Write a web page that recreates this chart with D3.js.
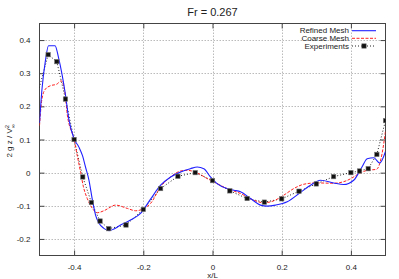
<!DOCTYPE html>
<html>
<head>
<meta charset="utf-8">
<script src="https://cdn.jsdelivr.net/npm/d3@7"></script>
<style>
  body { margin: 0; background: #fff; }
  text { font-family: "Liberation Sans", Arial, sans-serif; fill: #222; }
</style>
</head>
<body>
<div id="chart"></div>
<script>
// values
var refinedX = [-0.5, -0.493, -0.483, -0.474, -0.455, -0.445, -0.435, -0.425, -0.415, -0.4, -0.386, -0.376, -0.367, -0.357, -0.347, -0.338, -0.328, -0.314, -0.299, -0.285, -0.266, -0.237, -0.208, -0.179, -0.15, -0.121, -0.092, -0.064, -0.044, -0.025, -0.006, 0.013, 0.042, 0.062, 0.081, 0.11, 0.139, 0.158, 0.182, 0.216, 0.254, 0.283, 0.312, 0.35, 0.379, 0.408, 0.432, 0.447, 0.466, 0.483, 0.5];
var refinedY = [0.15, 0.25, 0.337, 0.383, 0.383, 0.347, 0.297, 0.235, 0.16, 0.102, 0.077, 0.052, 0.017, -0.023, -0.083, -0.128, -0.153, -0.168, -0.175, -0.170, -0.158, -0.143, -0.123, -0.08, -0.038, -0.013, 0.002, 0.012, 0.017, 0.012, -0.013, -0.033, -0.048, -0.053, -0.058, -0.078, -0.098, -0.101, -0.098, -0.088, -0.06, -0.038, -0.023, -0.031, -0.036, -0.023, 0.017, 0.042, 0.045, 0.029, 0.064];

var coarseX = [-0.5, -0.493, -0.483, -0.469, -0.45, -0.437, -0.425, -0.42, -0.4, -0.391, -0.381, -0.373, -0.362, -0.347, -0.333, -0.314, -0.28, -0.246, -0.222, -0.198, -0.179, -0.15, -0.121, -0.092, -0.073, -0.044, -0.015, 0.013, 0.042, 0.081, 0.119, 0.148, 0.177, 0.206, 0.235, 0.264, 0.3, 0.35, 0.38, 0.4, 0.42, 0.447, 0.474, 0.49, 0.5];
var coarseY = [0.142, 0.222, 0.252, 0.262, 0.267, 0.277, 0.232, 0.177, 0.1, 0.052, 0.0, -0.043, -0.078, -0.108, -0.121, -0.115, -0.098, -0.108, -0.115, -0.108, -0.093, -0.043, -0.013, 0.005, 0.007, -0.001, -0.018, -0.033, -0.048, -0.063, -0.083, -0.091, -0.085, -0.068, -0.048, -0.035, -0.031, -0.032, -0.027, -0.018, -0.005, 0.007, 0.010, 0.057, 0.125];

var expX = [-0.525, -0.475, -0.45, -0.425, -0.4, -0.375, -0.35, -0.325, -0.3, -0.25, -0.2, -0.15, -0.1, -0.05, 0, 0.05, 0.1, 0.15, 0.2, 0.25, 0.3, 0.35, 0.4, 0.425, 0.45, 0.475, 0.5];
var expY = [0.16, 0.356, 0.335, 0.222, 0.1, -0.013, -0.09, -0.146, -0.169, -0.158, -0.111, -0.048, -0.011, 0.0, -0.024, -0.055, -0.078, -0.089, -0.079, -0.056, -0.034, -0.012, 0.0, 0.005, 0.012, 0.055, 0.157];

var xTicks = [-0.4, -0.2, 0, 0.2, 0.4];
var yTicks = [-0.2, -0.1, 0, 0.1, 0.2, 0.3, 0.4];
var legendNames = ["Refined Mesh", "Coarse Mesh", "Experiments"];

var width = 399, height = 279;
var plotLeft = 39.5, plotRight = 385.5, plotTop = 23.5, plotBottom = 255.5;

var svg = d3.select("#chart").append("svg")
            .attr("width", width)
            .attr("height", height);

var x = d3.scaleLinear().domain([-0.5, 0.5]).range([plotLeft, plotRight]);
var y = d3.scaleLinear().domain([-0.25, 0.45]).range([plotBottom, plotTop]);

// gnuplot style labels: plain hyphen, "0" without decimals
var fmt = function(d) { return d === 0 ? "0" : d.toFixed(1); };

svg.append("clipPath").attr("id", "plotclip")
   .append("rect")
   .attr("x", plotLeft).attr("y", plotTop)
   .attr("width", plotRight - plotLeft).attr("height", plotBottom - plotTop);

// grid
svg.append("g").selectAll("line")
   .data(xTicks).enter().append("line")
   .attr("x1", function(d) { return Math.round(x(d)) + 0.5; })
   .attr("x2", function(d) { return Math.round(x(d)) + 0.5; })
   .attr("y1", plotTop).attr("y2", plotBottom)
   .attr("stroke", "#aaa").attr("stroke-width", 0.8)
   .attr("stroke-dasharray", "1.5,1.5");
svg.append("g").selectAll("line")
   .data(yTicks).enter().append("line")
   .attr("y1", function(d) { return Math.round(y(d)) + 0.5; })
   .attr("y2", function(d) { return Math.round(y(d)) + 0.5; })
   .attr("x1", plotLeft).attr("x2", plotRight)
   .attr("stroke", "#aaa").attr("stroke-width", 0.8)
   .attr("stroke-dasharray", "1.5,1.5");

// axes, ticks inward and mirrored
var xAxis = d3.axisBottom(x).tickValues(xTicks).tickSize(-5).tickPadding(9).tickFormat(fmt);
var yAxis = d3.axisLeft(y).tickValues(yTicks).tickSize(-5).tickPadding(9).tickFormat(fmt);

svg.append("g").attr("transform", "translate(0," + plotBottom + ")").call(xAxis);
svg.append("g").attr("transform", "translate(" + plotLeft + ",0)").call(yAxis);
svg.append("g").attr("transform", "translate(0," + plotTop + ")")
   .call(d3.axisTop(x).tickValues(xTicks).tickSize(-5).tickFormat(""));
svg.append("g").attr("transform", "translate(" + plotRight + ",0)")
   .call(d3.axisRight(y).tickValues(yTicks).tickSize(-5).tickFormat(""));

svg.selectAll(".domain").remove();
svg.selectAll(".tick line").attr("stroke", "#444");
svg.selectAll(".tick text").style("font-size", "8px")
   .style("font-family", "Liberation Sans, Arial, sans-serif").attr("fill", "#222");

svg.append("rect")
   .attr("x", plotLeft).attr("y", plotTop)
   .attr("width", plotRight - plotLeft).attr("height", plotBottom - plotTop)
   .attr("fill", "none").attr("stroke", "#444").attr("stroke-width", 1);

// curves
var plot = svg.append("g").attr("clip-path", "url(#plotclip)");

var smooth = d3.line()
               .x(function(d) { return x(d[0]); })
               .y(function(d) { return y(d[1]); })
               .curve(d3.curveMonotoneX);
var straight = d3.line()
                 .x(function(d) { return x(d[0]); })
                 .y(function(d) { return y(d[1]); });

var refined = d3.zip(refinedX, refinedY);
var coarse = d3.zip(coarseX, coarseY);
var exper = d3.zip(expX, expY);

plot.append("path").attr("d", straight(exper))
    .attr("fill", "none").attr("stroke", "#222").attr("stroke-width", 1)
    .attr("stroke-dasharray", "1,2");
plot.append("path").attr("d", smooth(coarse))
    .attr("fill", "none").attr("stroke", "#ff2020").attr("stroke-width", 1)
    .attr("stroke-dasharray", "3,1.5");
plot.append("path").attr("d", smooth(refined))
    .attr("fill", "none").attr("stroke", "#2020ff").attr("stroke-width", 1.1);

plot.selectAll("rect.pt")
    .data(exper).enter().append("rect")
    .attr("class", "pt")
    .attr("x", function(d) { return x(d[0]) - 2.2; })
    .attr("y", function(d) { return y(d[1]) - 2.2; })
    .attr("width", 4.4).attr("height", 4.4)
    .attr("fill", "#111").attr("stroke", "#777").attr("stroke-width", 0.6);

// title and labels
svg.append("text")
   .attr("x", (plotLeft + plotRight) / 2).attr("y", 16)
   .style("font-size", "11px").style("text-anchor", "middle")
   .text("Fr = 0.267");

svg.append("text")
   .attr("x", (plotLeft + plotRight) / 2).attr("y", 278)
   .style("font-size", "8px").style("text-anchor", "middle")
   .text("x/L");

var ylab = svg.append("text")
   .attr("transform", "translate(12,141) rotate(-90)")
   .style("font-size", "8px").style("text-anchor", "middle");
ylab.append("tspan").text("2 g z / V");
ylab.append("tspan").attr("dy", "-3.5").style("font-size", "6px").text("2");
ylab.append("tspan").attr("dx", "-3.4").attr("dy", "6").style("font-size", "5.5px").text("∞");

// legend
var legY = [30.7, 38.3, 46];
var leg = svg.append("g");
leg.selectAll("text")
   .data(legendNames).enter().append("text")
   .attr("x", 349).attr("y", function(d, i) { return legY[i]; })
   .attr("dy", "0.33em")
   .style("font-size", "8px").style("text-anchor", "end")
   .text(function(d) { return d; });
leg.append("line").attr("x1", 352).attr("x2", 376).attr("y1", legY[0]).attr("y2", legY[0])
   .attr("stroke", "#2020ff").attr("stroke-width", 1.1);
leg.append("line").attr("x1", 352).attr("x2", 376).attr("y1", legY[1]).attr("y2", legY[1])
   .attr("stroke", "#ff2020").attr("stroke-dasharray", "3,1.5");
leg.append("line").attr("x1", 352).attr("x2", 376).attr("y1", legY[2]).attr("y2", legY[2])
   .attr("stroke", "#222").attr("stroke-dasharray", "1,2");
leg.append("rect").attr("x", 364 - 2.2).attr("y", legY[2] - 2.2)
   .attr("width", 4.4).attr("height", 4.4)
   .attr("fill", "#111").attr("stroke", "#777").attr("stroke-width", 0.6);
</script>
</body>
</html>
